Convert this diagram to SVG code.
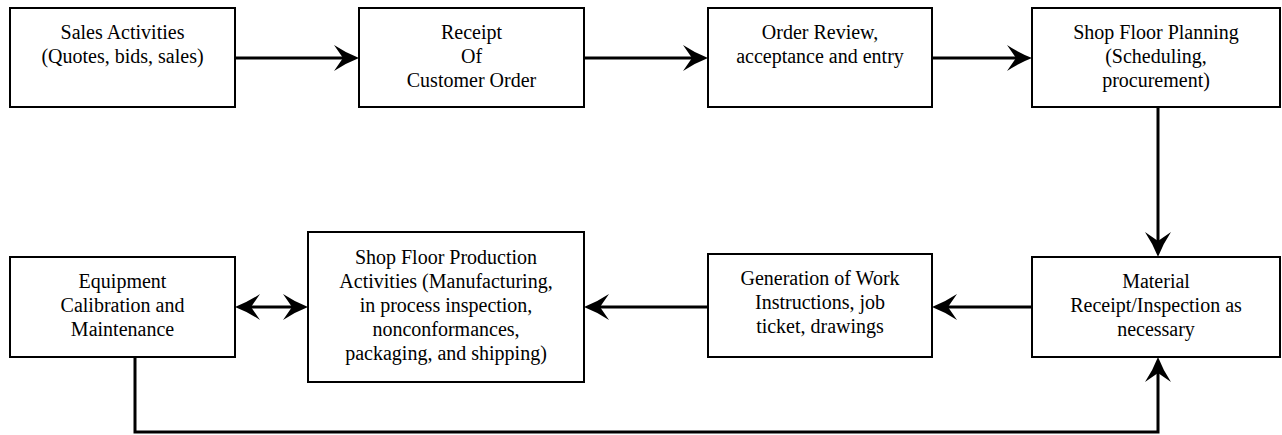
<svg xmlns="http://www.w3.org/2000/svg" width="1282" height="435" viewBox="0 0 1282 435">
<style>
.box{fill:#fff;stroke:#000;stroke-width:2}
.t{font-family:'Liberation Serif','Times New Roman','DejaVu Serif',serif;font-size:20px;fill:#000;text-anchor:middle}
.c{fill:none;stroke:#000;stroke-width:3}
</style>
<defs>
<marker id="ah" markerUnits="userSpaceOnUse" orient="auto-start-reverse" overflow="visible" markerWidth="1" markerHeight="1" refX="0" refY="0">
<path d="M16,0 Q3,-5 -9,-13 L0,0 L-9,13 Q3,5 16,0 Z" fill="#000"/>
</marker>
</defs>
<rect width="1282" height="435" fill="#fff"/>
<g id="connectors">
<line class="c" x1="235" y1="58" x2="343" y2="58" marker-end="url(#ah)"/>
<line class="c" x1="584" y1="58" x2="692" y2="58" marker-end="url(#ah)"/>
<line class="c" x1="932" y1="58" x2="1016" y2="58" marker-end="url(#ah)"/>
<line class="c" x1="1158" y1="107" x2="1158" y2="241" marker-end="url(#ah)"/>
<line class="c" x1="1032" y1="307" x2="948" y2="307" marker-end="url(#ah)"/>
<line class="c" x1="708" y1="307" x2="600" y2="307" marker-end="url(#ah)"/>
<line class="c" x1="251" y1="307" x2="292" y2="307" marker-start="url(#ah)" marker-end="url(#ah)"/>
<polyline class="c" points="135,357 135,432 1158,432 1158,373" marker-end="url(#ah)"/>
</g>
<g font-family="Liberation Serif, Times New Roman, DejaVu Serif, serif">
<g id="n1"><rect class="box" x="10" y="8" width="225" height="99"/>
<text class="t" x="122.5" y="39">Sales Activities</text><text class="t" x="122.5" y="63">(Quotes, bids, sales)</text></g>
<g id="n2"><rect class="box" x="359" y="8" width="225" height="99"/>
<text class="t" x="471.5" y="39">Receipt</text><text class="t" x="471.5" y="63">Of</text><text class="t" x="471.5" y="87">Customer Order</text></g>
<g id="n3"><rect class="box" x="708" y="8" width="224" height="99"/>
<text class="t" x="820" y="39">Order Review,</text><text class="t" x="820" y="63">acceptance and entry</text></g>
<g id="n4"><rect class="box" x="1032" y="8" width="248" height="99"/>
<text class="t" x="1156" y="39">Shop Floor Planning</text><text class="t" x="1156" y="63">(Scheduling,</text><text class="t" x="1156" y="87">procurement)</text></g>
<g id="n5"><rect class="box" x="1032" y="257" width="248" height="100"/>
<text class="t" x="1156" y="288">Material</text><text class="t" x="1156" y="312">Receipt/Inspection as</text><text class="t" x="1156" y="336">necessary</text></g>
<g id="n6"><rect class="box" x="708" y="254" width="224" height="103"/>
<text class="t" x="820" y="285">Generation of Work</text><text class="t" x="820" y="309">Instructions, job</text><text class="t" x="820" y="333">ticket, drawings</text></g>
<g id="n7"><rect class="box" x="308" y="232" width="276" height="150"/>
<text class="t" x="446" y="264">Shop Floor Production</text><text class="t" x="446" y="288">Activities (Manufacturing,</text><text class="t" x="446" y="312">in process inspection,</text><text class="t" x="446" y="336">nonconformances,</text><text class="t" x="446" y="360">packaging, and shipping)</text></g>
<g id="n8"><rect class="box" x="10" y="257" width="225" height="100"/>
<text class="t" x="122.5" y="288">Equipment</text><text class="t" x="122.5" y="312">Calibration and</text><text class="t" x="122.5" y="336">Maintenance</text></g>
</g>
</svg>
